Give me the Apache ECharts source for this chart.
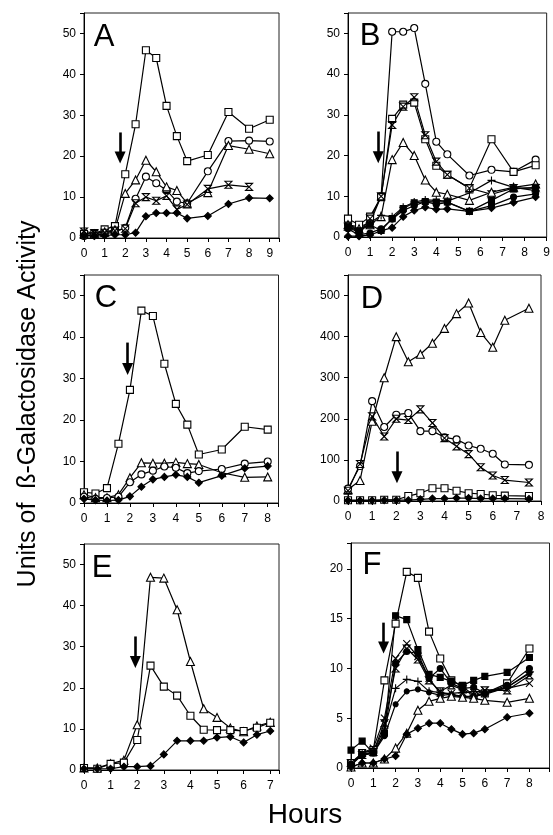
<!DOCTYPE html>
<html><head><meta charset="utf-8">
<script src="https://cdn.jsdelivr.net/npm/echarts@6/dist/echarts.min.js"></script>
<style>html,body{margin:0;padding:0;background:#fff}#c{width:553px;height:835px}</style>
</head><body><div id="c"></div>
<script>
// ---------- DATA ----------
const hoursA = [0,0.5,1,1.5,2,2.5,3,3.5,4,4.5,5,6,7,8,9];
const A_openSquare   = [1,1,2.1,2.9,15.6,27.8,45.9,44,32.3,24.9,18.8,20.3,30.8,26.7,28.9];
const A_openCircle   = [0.5,0.7,1,1.5,2.5,9.6,15,13.4,11.7,8.9,8.5,16.3,23.7,23.8,23.6];
const A_openTriangle = [1,1,1.5,2,10.9,14.2,19,16.2,12.5,11.6,8.5,11.1,22.6,21.7,20.6];
const A_star         = [1.6,1.2,1.3,1.8,2.3,8.5,10,9.1,10.3,7,8.2,12,13,12.5];
const A_filledDiamond= [0.5,0.5,0.6,0.8,0.8,1.3,5.3,6.1,6.1,6.1,4.8,5.4,8.3,9.8,9.7];

const hoursB = [0,0.5,1,1.5,2,2.5,3,3.5,4,4.5,5.5,6.5,7.5,8.5];
const B_openCircle   = [3,2.5,3.5,10,50.4,50.4,51.3,37.6,23.4,20.3,15.1,16.5,16,19];
const B_openSquare   = [4.5,3,5,9.8,29,32.5,33,24,17.5,15.3,12,24,16,17.6];
const B_star         = [2.5,1,4.5,10,27.5,32,34.3,25,18.5,15.3,12,10.5,12,12];
const B_openTriangle = [3,2,3,5,19,23.2,20,14,11,10.5,9,11,12.2,13];
const B_filledDiamond= [0.2,0.2,0.5,1.5,2.3,5,6.5,7.3,6.8,6.9,6.3,7.1,8.5,9.8];
const B_filledCircle = [2,0.5,1,2,4.4,6.5,7.7,8.7,8,8.5,6.3,7.7,9.8,10.6];
const B_filledSquare = [2.5,1.5,3,1.6,4.5,7,8.4,8.7,8.6,8.6,6.3,9,11.8,12.2];
const B_plus         = [3,1.5,3.5,5.3,5,7.3,8.6,9.1,9,8.8,10.8,13.9,12.2,11.4];

const hoursC = [0,0.5,1,1.5,2,2.5,3,3.5,4,4.5,5,6,7,8];
const C_openSquare   = [2.6,2.3,3.6,14.3,27.3,46.4,45.1,33.6,23.9,18.9,11.7,12.9,18.4,17.7];
const C_openTriangle = [2,1.3,1.3,2,6.1,9.7,9.6,9.6,9.8,9.5,9.3,7.3,6.2,6.3];
const C_openCircle   = [1.5,1,1.2,1.5,5,6.9,7.8,8.8,8.5,7.2,7.7,8.2,9.5,10];
const C_filledDiamond= [1,0.7,0.6,0.7,1.6,3.9,5.7,6.3,6.8,6.3,4.9,6.6,8.4,8.9];

const hoursD = [0,0.5,1,1.5,2,2.5,3,3.5,4,4.5,5,5.5,6,6.5,7.5];
const D_openTriangle = [28,50,194,300,400,339,357,384,420,456,482,410,374,440,469];
const D_openCircle   = [30,85,243,180,210,214,170,170,155,150,135,127,115,89,88];
const D_star         = [25,90,206,157,200,197,223,190,153,133,114,82,62,51,45];
const D_openSquare   = [2,2,2,3,3,12,19,31,31,25,19,17,14,13,12];
const D_filledDiamond= [1,1,1,2,2,2,4,6,6,7,7,6,6,6,5];

const hoursE = [0,0.5,1,1.5,2,2.5,3,3.5,4,4.5,5,5.5,6,6.5,7];
const E_openTriangle = [0.5,0.5,1.5,2.4,11,46.9,46.7,39,26.4,14.9,12.8,10.2,9.3,10.7,11.6];
const E_openSquare   = [0.5,0.3,1.5,1.8,7.3,25.4,20.3,18.1,13.2,9.8,9.7,9.7,9.5,10.3,11.5];
const E_filledDiamond= [0.3,0.3,0.3,0.8,0.8,1,3.8,7.1,7.1,7.1,7.9,8.1,6.7,8.6,9.5];

const hoursF = [0,0.5,1,1.5,2,2.5,3,3.5,4,4.5,5,5.5,6,7,8];
const F_openSquare   = [0.5,1.5,1.8,8.8,14.5,19.7,19.1,13.7,11,8.8,8.2,7.3,7.5,8.5,12];
const F_filledSquare = [1.8,2.7,1.5,3.5,15.3,14.9,11.9,9.4,9.1,8.7,8.3,8.8,9.2,9.6,11.1];
const F_cross        = [0.3,1.5,2,5,11,12.5,11.2,9,7.5,7.5,7.6,7.6,7.8,8,8.5];
const F_star         = [0.5,1.3,1.6,4.5,10,12,10.9,8.8,7.7,8.3,7.9,7.3,7.8,7.8,9.3];
const F_filledCircle = [0.4,1.3,1.5,3.5,10.5,11.7,11.5,9,10,8.5,8,8.1,7.5,8.3,10];
const F_plus         = [0.5,1.4,1.6,4,8,8.9,8.7,7.7,7.6,7.4,7.2,7.2,7.5,8.1,9.6];
const F_smallCircle  = [0.3,1.3,1.5,3.2,6.4,7.7,7.9,7.6,7.3,7.4,7.1,7.2,7.4,8.1,9.5];
const F_openTriangle = [0.1,0.5,0.5,0.9,2,3.5,5.8,6.7,7,7.2,7.1,7,6.8,6.6,7];
const F_filledDiamond= [0.1,0.5,0.5,0.9,1.2,3.4,4,4.5,4.5,3.9,3.4,3.5,3.9,5.1,5.5];

// arrow annotations [x, yTop, yTip]
const arrowA = [1.75, 25.8, 18.2];
const arrowB = [1.37, 25.9, 18.1];
const arrowC = [1.9, 38.7, 30.9];
const arrowD = [2.03, 120.5, 43];
const arrowE = [1.93, 32.5, 24.8];
const arrowF = [1.46, 14.6, 11.5];

const panelLetters = ['A','B','C','D','E','F'];
const yTitle = 'Units of  ß-Galactosidase Activity';
const xTitle = 'Hours';

// ---------- STYLE ----------
const MK = {
  openSquare:   {symbol:'rect', fill:'#fff', size:7},
  openCircle:   {symbol:'circle', fill:'#fff', size:7},
  openTriangle: {symbol:'triangle', fill:'#fff', size:8},
  filledDiamond:{symbol:'diamond', fill:'#000', size:7},
  filledCircle: {symbol:'circle', fill:'#000', size:6},
  smallCircle:  {symbol:'circle', fill:'#000', size:5},
  filledSquare: {symbol:'rect', fill:'#000', size:6},
  star:   {symbol:'path://M0,0L10,0L0,10L10,10Z', fill:'rgba(0,0,0,0)', size:7},
  cross:  {symbol:'path://M0,0L10,10M10,0L0,10', fill:'rgba(0,0,0,0)', size:7},
  plus:   {symbol:'path://M5,0L5,10M0,5L10,5', fill:'rgba(0,0,0,0)', size:8}
};

const FONT = 'Liberation Sans, Arial, sans-serif';
const panels = [
  {grid:{left:84,top:13,width:195,height:225}, xmax:9.45, ymax:55, yint:10, hours:hoursA, arrow:arrowA,
   series:[['openSquare',A_openSquare],['openCircle',A_openCircle],['openTriangle',A_openTriangle],['star',A_star],['filledDiamond',A_filledDiamond]]},
  {grid:{left:348,top:13,width:200.5,height:224}, xmax:9, ymax:55, yint:10, hours:hoursB, arrow:arrowB,
   series:[['openCircle',B_openCircle],['openSquare',B_openSquare],['star',B_star],['openTriangle',B_openTriangle],['filledDiamond',B_filledDiamond],['filledCircle',B_filledCircle],['filledSquare',B_filledSquare],['plus',B_plus]]},
  {grid:{left:84,top:275,width:194.5,height:228}, xmax:8.47, ymax:55, yint:10, hours:hoursC, arrow:arrowC,
   series:[['openSquare',C_openSquare],['openTriangle',C_openTriangle],['openCircle',C_openCircle],['filledDiamond',C_filledDiamond]]},
  {grid:{left:348,top:275,width:193,height:226}, xmax:8, ymax:550, yint:100, hours:hoursD, arrow:arrowD,
   series:[['openTriangle',D_openTriangle],['openCircle',D_openCircle],['star',D_star],['openSquare',D_openSquare],['filledDiamond',D_filledDiamond]]},
  {grid:{left:84,top:544,width:195,height:226}, xmax:7.33, ymax:55, yint:10, hours:hoursE, arrow:arrowE,
   series:[['openTriangle',E_openTriangle],['openSquare',E_openSquare],['filledDiamond',E_filledDiamond]]},
  {grid:{left:351,top:543,width:198.5,height:225}, xmax:8.9, ymax:22.6, yint:5, hours:hoursF, arrow:arrowF,
   series:[['openSquare',F_openSquare],['filledSquare',F_filledSquare],['cross',F_cross],['star',F_star],['filledCircle',F_filledCircle],['plus',F_plus],['smallCircle',F_smallCircle],['openTriangle',F_openTriangle],['filledDiamond',F_filledDiamond]]}
];
const letterPos = [[104,36],[370,35],[106,297],[372,298],[102,567],[372,564]];

const grids=[], xAxes=[], yAxes=[], series=[];
panels.forEach((p,i)=>{
  grids.push(Object.assign({show:true, borderColor:'#222', borderWidth:1, backgroundColor:'transparent'}, p.grid));
  const axisCommon = {
    gridIndex:i, min:0, splitLine:{show:false},
    axisLine:{show:true, lineStyle:{color:'#000', width:1}},
    axisTick:{show:true, inside:false, length:4, lineStyle:{color:'#000'}},
  };
  xAxes.push(Object.assign({}, axisCommon, {type:'value', max:p.xmax, interval:1,
    axisLabel:{margin:10, color:'#000', fontSize:12, fontFamily:FONT,
      formatter:v=> (Math.abs(v-Math.round(v))<1e-6 ? String(Math.round(v)) : '')}}));
  yAxes.push(Object.assign({}, axisCommon, {type:'value', max:p.ymax, interval:p.yint,
    axisLabel:{margin:8, color:'#000', fontSize:12, fontFamily:FONT,
      formatter:v=> (Math.abs(v/p.yint-Math.round(v/p.yint))<1e-6 ? String(Math.round(v)) : '')}}));
  p.series.forEach(([mk,vals],k)=>{
    const m = MK[mk];
    const s = {
      type:'line', xAxisIndex:i, yAxisIndex:i,
      data: vals.map((v,j)=>[p.hours[j], v]),
      symbol:m.symbol, symbolSize:m.size, showAllSymbol:true,
      lineStyle:{color:'#000', width:1.2},
      itemStyle:{color:m.fill, borderColor:'#000', borderWidth:1.1},
      emphasis:{disabled:true}, animation:false, z:3
    };
    if(k===0){
      const [ax,yTop,yTip] = p.arrow;
      const pxPerUnit = p.grid.height/p.ymax;
      s.markLine = {silent:true, animation:false, symbol:['none','triangle'], symbolSize:[11,12],
        lineStyle:{color:'#000', width:2.6, type:'solid'}, label:{show:false},
        data:[[{coord:[ax,yTop]},{coord:[ax, yTip + 6/pxPerUnit]}]]};
    }
    series.push(s);
  });
});

const graphics = panelLetters.map((t,i)=>({type:'text', x:letterPos[i][0], y:letterPos[i][1]+1,
  style:{text:t, fontSize:31, fontFamily:FONT, fill:'#000', align:'center', verticalAlign:'middle'}}));
graphics.push({type:'text', x:28, y:404, rotation:Math.PI/2,
  style:{text:yTitle, fontSize:25, fontFamily:FONT, fill:'#000', align:'center', verticalAlign:'middle'}});
graphics.push({type:'text', x:305, y:815,
  style:{text:xTitle, fontSize:28, fontFamily:FONT, fill:'#000', align:'center', verticalAlign:'middle'}});

const chart = echarts.init(document.getElementById('c'), null, {renderer:'canvas'});
chart.setOption({animation:false, grid:grids, xAxis:xAxes, yAxis:yAxes, series:series, graphic:graphics});
</script></body></html>
